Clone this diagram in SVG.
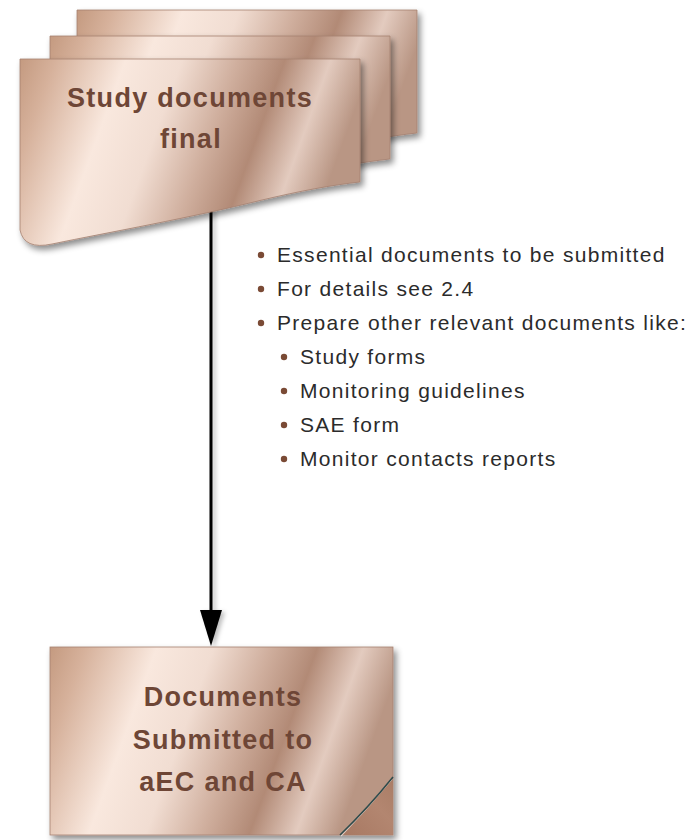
<svg xmlns="http://www.w3.org/2000/svg" width="691" height="840" viewBox="0 0 691 840">
  <defs>
    <!-- brushed copper fill shared by all paper shapes -->
    <linearGradient id="copper" x1="0" y1="0" x2="1" y2="0.2">
      <stop offset="0" stop-color="#c49a80"/>
      <stop offset="0.1" stop-color="#d6b19b"/>
      <stop offset="0.3" stop-color="#f9e8de"/>
      <stop offset="0.46" stop-color="#f1ddd2"/>
      <stop offset="0.62" stop-color="#cfae9d"/>
      <stop offset="0.75" stop-color="#b28a76"/>
      <stop offset="0.88" stop-color="#e3cbbf"/>
      <stop offset="1" stop-color="#b99684"/>
    </linearGradient>
    <linearGradient id="flap" x1="0" y1="1" x2="1" y2="0">
      <stop offset="0" stop-color="#a77862"/>
      <stop offset="0.6" stop-color="#b38670"/>
      <stop offset="1" stop-color="#a97d66"/>
    </linearGradient>
    <filter id="shadow" x="-10%" y="-10%" width="125%" height="130%">
      <feDropShadow dx="3" dy="4" stdDeviation="3" flood-color="#000" flood-opacity="0.45"/>
    </filter>
    <filter id="softshadow" filterUnits="userSpaceOnUse" x="180" y="195" width="70" height="470">
      <feDropShadow dx="3" dy="2" stdDeviation="2" flood-color="#000" flood-opacity="0.25"/>
    </filter>
    <!-- wavy-bottom sheet outline -->
    <path id="sheet" d="M20,59 H360 V182 C332,185 300,191 262,200 C190,218 110,232 52,244 Q24,250 20,230 Z"/>
    <marker id="arrowhead" markerUnits="userSpaceOnUse" markerWidth="36" markerHeight="22" viewBox="0 0 36 22" refX="10" refY="11" orient="auto">
      <path d="M0,0 L36,11 L0,22 Z" fill="#000"/>
    </marker>
    <style>
      .paper { fill: url(#copper); stroke: #a58070; stroke-width: 0.8; filter: url(#shadow); }
      .title { font-family: "Liberation Sans", Arial, sans-serif; font-weight: bold; font-size: 27px; letter-spacing: 1.3px; fill: #6e4636; text-anchor: middle; }
      .item { font-family: "Liberation Sans", Arial, sans-serif; font-size: 21px; letter-spacing: 1.3px; fill: #2b2b2b; }
      .dot { fill: #7a4a35; }
      .edge { stroke: #000; stroke-width: 3; fill: none; }
    </style>
  </defs>

  <!-- connector -->
  <g id="connectors" filter="url(#softshadow)">
    <line class="edge" x1="211" y1="207" x2="211" y2="620" marker-end="url(#arrowhead)"/>
  </g>

  <!-- stacked documents node -->
  <g id="study-documents-final">
    <use href="#sheet" class="paper" transform="translate(57,-49)"/>
    <use href="#sheet" class="paper" transform="translate(30,-23)"/>
    <use href="#sheet" class="paper"/>
    <text class="title" x="190" y="107">Study documents</text>
    <text class="title" x="191" y="148">final</text>
  </g>

  <!-- bullet notes -->
  <g id="notes">
    <circle class="dot" cx="261" cy="255" r="3.2"/>
    <text class="item" x="277" y="262">Essential documents to be submitted</text>
    <circle class="dot" cx="261" cy="289" r="3.2"/>
    <text class="item" x="277" y="296">For details see 2.4</text>
    <circle class="dot" cx="261" cy="323" r="3.2"/>
    <text class="item" x="277" y="330">Prepare other relevant documents like:</text>
    <circle class="dot" cx="284" cy="357" r="3.2"/>
    <text class="item" x="300" y="364">Study forms</text>
    <circle class="dot" cx="284" cy="391" r="3.2"/>
    <text class="item" x="300" y="398">Monitoring guidelines</text>
    <circle class="dot" cx="284" cy="425" r="3.2"/>
    <text class="item" x="300" y="432">SAE form</text>
    <circle class="dot" cx="284" cy="459" r="3.2"/>
    <text class="item" x="300" y="466">Monitor contacts reports</text>
  </g>

  <!-- submitted documents node with curled corner -->
  <g id="documents-submitted">
    <rect class="paper" x="50" y="647" width="343" height="188"/>
    <path d="M393,777 Q368,808 340,835 L393,835 Z" fill="url(#flap)"/>
    <path d="M392,779 Q367,809 341,836" fill="none" stroke="#ffffff" stroke-width="1.2" opacity="0.6"/>
    <path d="M393,777 Q368,808 340,835" fill="none" stroke="#2f4a4a" stroke-width="1.6"/>
    <text class="title" x="223" y="706">Documents</text>
    <text class="title" x="223" y="749">Submitted to</text>
    <text class="title" x="223" y="791">aEC and CA</text>
  </g>
</svg>
